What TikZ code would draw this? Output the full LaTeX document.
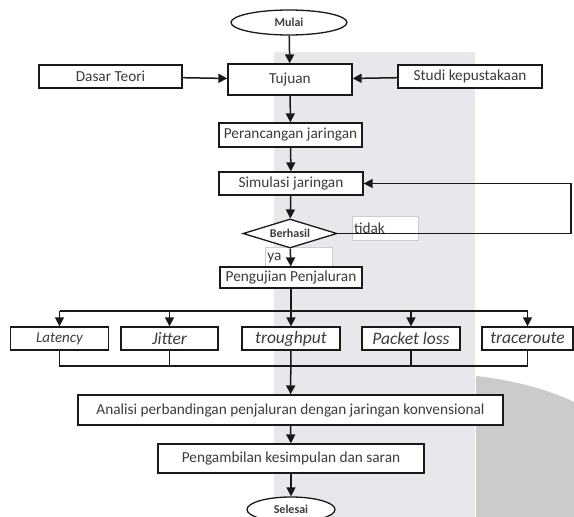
\documentclass[tikz,border=0pt]{standalone}
\usepackage{fontspec}
\setmainfont{Carlito}
\usetikzlibrary{shapes.geometric,arrows.meta}

\definecolor{LineColor}{RGB}{25,25,25}
\definecolor{TextColor}{RGB}{60,60,60}
\definecolor{LabelColor}{RGB}{205,205,205}
\definecolor{MarkLight}{RGB}{232,232,236}
\definecolor{MarkDark}{RGB}{203,203,203}

\tikzset{
	box/.style={draw=LineColor, line width=1.3pt, fill=white, text=TextColor, inner sep=0pt, font=\fontsize{15.3}{17}\selectfont},
	itbox/.style={box, minimum width=98pt, minimum height=23pt, font=\fontsize{17.5}{19}\selectfont\itshape},
	terminal/.style={box, ellipse, minimum width=116pt, minimum height=25pt, font=\fontsize{12}{13}\selectfont\bfseries},
	decision/.style={box, diamond, shape aspect=3.2, minimum width=94pt, minimum height=29pt, font=\fontsize{12}{13}\selectfont\bfseries},
	answer/.style={draw=LabelColor, line width=0.6pt, fill=white, text=TextColor, inner sep=2pt, align=left, font=\fontsize{15.3}{17}\selectfont},
	line/.style={draw=LineColor, line width=1.5pt},
	arrow/.style={line, -{Triangle[length=9pt,width=9pt]}}
}

\begin{document}
\begin{tikzpicture}[x=1pt, y=-1pt]
	\useasboundingbox (0,0) rectangle (574,517);
	\fill [MarkLight] (274,52) rectangle (475,517);
	\fill [MarkDark] (476,376) .. controls (510,380) and (545,388) .. (574,402) -- (574,517) -- (476,517) -- cycle;

	\node [terminal] (mulai) at (289,22.5) {Mulai};
	\node [box, minimum width=124pt, minimum height=31pt] (tujuan) at (290,79.5) {Tujuan};
	\node [box, minimum width=143pt, minimum height=23pt] (dasar) at (110.5,76.5) {Dasar Teori};
	\node [box, minimum width=144pt, minimum height=23pt] (studi) at (470,76.5) {Studi kepustakaan};
	\node [box, minimum width=143pt, minimum height=24pt] (rancang) at (290.5,135) {Perancangan jaringan};
	\node [box, minimum width=144pt, minimum height=23pt] (simulasi) at (291,183.5) {Simulasi jaringan};
	\node [answer, text width=62pt, minimum height=24pt] (tidak) at (385,228) {tidak};
	\node [answer, text width=63pt, minimum height=21pt, anchor=north west] (ya) at (265,247) {ya};
	\node [decision] (berhasil) at (290,233.5) {Berhasil};
	\node [box, minimum width=142pt, minimum height=21pt] (uji) at (291,277.5) {Pengujian Penjaluran};

	\node [itbox, font=\fontsize{15}{17}\selectfont\itshape] (latency) at (59.5,338.5) {Latency};
	\node [itbox, minimum width=97pt] (jitter) at (169.5,338.5) {Jitter};
	\node [itbox] (trough) at (291,338.5) {troughput};
	\node [itbox] (loss) at (411,338.5) {Packet loss};
	\node [itbox, minimum width=91pt] (trace) at (527.5,338.5) {traceroute};

	\node [box, minimum width=425pt, minimum height=30pt] (analisi) at (290.5,410) {Analisi perbandingan penjaluran dengan jaringan konvensional};
	\node [box, minimum width=266pt, minimum height=29pt] (simpul) at (291,458.5) {Pengambilan kesimpulan dan saran};
	\node [terminal, minimum width=88pt] (selesai) at (291,509.5) {Selesai};

	\coordinate (loop) at (571,233.5);
	\coordinate (bus) at (291,311);
	\coordinate (join) at (291,366);

	\draw [arrow] (mulai) -- (tujuan);
	\draw [arrow] (dasar) -- (tujuan);
	\draw [arrow] (studi) -- (tujuan);
	\draw [arrow] (tujuan) -- (rancang);
	\draw [arrow] (rancang) -- (simulasi);
	\draw [arrow] (simulasi) -- (berhasil);
	\draw [arrow] (berhasil) -- (uji);
	\draw [arrow] (berhasil.east) -- (loop) |- (simulasi.east);
	\draw [line] (uji) -- (bus);
	\draw [line] (latency.north |- bus) -- (trace.north |- bus);
	\foreach \n in {latency,jitter,trough,loss,trace}
		\draw [arrow] (\n.north |- bus) -- (\n.north);
	\draw [line] (latency.south) |- (trace.south |- join) -- (trace.south);
	\foreach \n in {jitter,loss}
		\draw [line] (\n.south) -- (\n.south |- join);
	\draw [arrow] (trough) -- (analisi);
	\draw [arrow] (analisi) -- (simpul);
	\draw [arrow] (simpul) -- (selesai);
\end{tikzpicture}
\end{document}
